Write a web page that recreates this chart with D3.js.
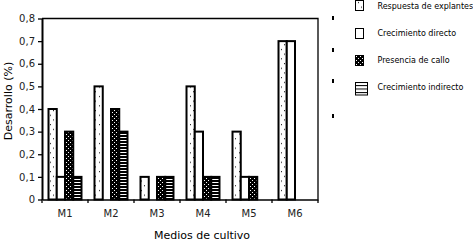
<!DOCTYPE html>
<html>
<head>
<meta charset="utf-8">
<script src="https://cdn.jsdelivr.net/npm/d3@7"></script>
<style>
  html, body { margin: 0; padding: 0; background: #fff; }
  svg { display: block; font-family: 'DejaVu Sans', sans-serif; }
</style>
</head>
<body>
<svg id="chart" width="473" height="241"></svg>
<script>
// data
const medios = ['M1', 'M2', 'M3', 'M4', 'M5', 'M6'];
const series = ['Respuesta de explantes', 'Crecimiento directo', 'Presencia de callo', 'Crecimiento indirecto'];
const respuesta = [0.4, 0.5, 0.1, 0.5, 0.3, 0.7];
const directo = [0.1, 0, 0, 0.3, 0.1, 0.7];
const callo = [0.3, 0.4, 0.1, 0.1, 0.1, 0];
const indirecto = [0.1, 0.3, 0.1, 0.1, 0, 0];
const yTicks = [0, 0.1, 0.2, 0.3, 0.4, 0.5, 0.6, 0.7, 0.8];
const legendDashes = [18, 50, 81, 116];

const values = [respuesta, directo, callo, indirecto];
const fills = ['url(#dots)', '#fff', 'url(#callo)', 'url(#stripes)'];

const svg = d3.select('#chart');
const plot = { left: 42, right: 318, top: 18.5, bottom: 199.5 };

// patterns
const defs = svg.append('defs');

const dots = defs.append('pattern')
  .attr('id', 'dots')
  .attr('patternUnits', 'userSpaceOnUse')
  .attr('width', 7)
  .attr('height', 9.4);
dots.append('rect').attr('width', 7).attr('height', 9.4).attr('fill', '#fff');
dots.append('rect').attr('x', 1).attr('y', 2).attr('width', 1).attr('height', 1).attr('fill', '#000');
dots.append('rect').attr('x', 4).attr('y', 6.7).attr('width', 1).attr('height', 1).attr('fill', '#000');

const calloPat = defs.append('pattern')
  .attr('id', 'callo')
  .attr('patternUnits', 'userSpaceOnUse')
  .attr('width', 4)
  .attr('height', 4);
calloPat.append('rect').attr('width', 4).attr('height', 4).attr('fill', '#000');
calloPat.append('rect').attr('x', 0).attr('y', 0).attr('width', 1).attr('height', 1).attr('fill', '#fff');
calloPat.append('rect').attr('x', 2).attr('y', 2).attr('width', 1).attr('height', 1).attr('fill', '#fff');

const stripes = defs.append('pattern')
  .attr('id', 'stripes')
  .attr('patternUnits', 'userSpaceOnUse')
  .attr('width', 4)
  .attr('height', 3);
stripes.append('rect').attr('width', 4).attr('height', 3).attr('fill', '#fff');
stripes.append('rect').attr('y', 0).attr('width', 4).attr('height', 2).attr('fill', '#000');

const stripesLegend = defs.append('pattern')
  .attr('id', 'stripesLegend')
  .attr('patternUnits', 'userSpaceOnUse')
  .attr('width', 4)
  .attr('height', 3.5)
  .attr('y', 81.5);
stripesLegend.append('rect').attr('width', 4).attr('height', 3.5).attr('fill', '#fff');
stripesLegend.append('rect').attr('y', 0).attr('width', 4).attr('height', 1).attr('fill', '#000');

// scales
const xOuter = d3.scaleBand()
  .domain(medios)
  .range([plot.left, plot.right])
  .padding(0);

const groupWidth = xOuter.bandwidth() * 0.717;
const groupOffset = (xOuter.bandwidth() - groupWidth) / 2;

const xSeries = d3.scaleBand()
  .domain(series)
  .range([0, groupWidth])
  .padding(0);

const y = d3.scaleLinear()
  .domain([0, 0.8])
  .range([plot.bottom, plot.top]);

// frame (top and right)
svg.append('path')
  .attr('d', `M${plot.left},${plot.top}H${plot.right}V${plot.bottom}`)
  .attr('fill', 'none')
  .attr('stroke', '#000')
  .attr('stroke-width', 1.3);

// bars, one layer per series so later series sit on top
series.forEach((s, si) => {
  const rows = medios.map((m, i) => ({ m, v: values[si][i] })).filter(d => d.v > 0);
  svg.append('g')
    .selectAll('rect')
    .data(rows)
    .enter()
    .append('rect')
    .attr('x', d => xOuter(d.m) + groupOffset + xSeries(s))
    .attr('y', d => y(d.v))
    .attr('width', xSeries.bandwidth())
    .attr('height', d => y(0) - y(d.v))
    .attr('fill', fills[si])
    .attr('stroke', '#000')
    .attr('stroke-width', 2);
});

// y axis
const fmt = d => d === 0 ? '0' : d3.format('.1f')(d).replace('.', ',');
const yAxisEl = svg.append('g')
  .attr('transform', `translate(${plot.left},0)`)
  .call(d3.axisLeft(y).tickValues(yTicks).tickFormat(fmt).tickSize(4).tickSizeOuter(0).tickPadding(3));
yAxisEl.select('.domain').attr('stroke-width', 2);
yAxisEl.selectAll('.tick line').attr('stroke-width', 1.3);
yAxisEl.selectAll('text')
  .style('font-family', 'DejaVu Sans, sans-serif')
  .style('font-size', '10px')
  .attr('fill', '#222');

// x axis: labels at centres, ticks at category boundaries
const xAxisEl = svg.append('g')
  .attr('transform', `translate(0,${plot.bottom})`)
  .call(d3.axisBottom(xOuter).tickSize(0).tickSizeOuter(0).tickPadding(10));
xAxisEl.select('.domain').attr('stroke-width', 1.5);
xAxisEl.selectAll('text')
  .style('font-family', 'DejaVu Sans, sans-serif')
  .style('font-size', '10px')
  .attr('fill', '#222');

const bounds = medios.map(m => xOuter(m)).concat([xOuter.range()[1]]);
svg.append('g')
  .selectAll('line')
  .data(bounds)
  .enter()
  .append('line')
  .attr('x1', d => d)
  .attr('x2', d => d)
  .attr('y1', plot.bottom)
  .attr('y2', plot.bottom + 3.5)
  .attr('stroke', '#000')
  .attr('stroke-width', 1.3);

// axis titles
svg.append('text')
  .attr('x', 202)
  .attr('y', 239)
  .attr('text-anchor', 'middle')
  .style('font-size', '11px')
  .text('Medios de cultivo');

svg.append('text')
  .attr('transform', 'translate(12,101) rotate(-90)')
  .attr('text-anchor', 'middle')
  .style('font-size', '11px')
  .text('Desarrollo (%)');

// legend
const legendY = [9, 36, 63, 90];
const swatches = [
  { x: 355.5, y: 0.5, w: 8, h: 10, fill: 'url(#dots)' },
  { x: 355.5, y: 28.5, w: 8, h: 10, fill: '#fff' },
  { x: 355.5, y: 55.5, w: 8, h: 10, fill: 'url(#callo)' },
  { x: 355.5, y: 82.5, w: 12, h: 12.5, fill: 'url(#stripesLegend)' },
];
const legend = svg.append('g');
legend.selectAll('rect')
  .data(swatches)
  .enter()
  .append('rect')
  .attr('x', d => d.x)
  .attr('y', d => d.y)
  .attr('width', d => d.w)
  .attr('height', d => d.h)
  .attr('fill', d => d.fill)
  .attr('stroke', '#000')
  .attr('stroke-width', 1);
legend.selectAll('text')
  .data(series)
  .enter()
  .append('text')
  .attr('x', 377.5)
  .attr('y', (d, i) => legendY[i])
  .style('font-size', '8px')
  .text(d => d);

// little dashes left of the legend
svg.append('g')
  .selectAll('rect')
  .data(legendDashes)
  .enter()
  .append('rect')
  .attr('x', 332)
  .attr('y', d => d - 2)
  .attr('width', 2)
  .attr('height', 4)
  .attr('fill', '#000');
</script>
</body>
</html>
